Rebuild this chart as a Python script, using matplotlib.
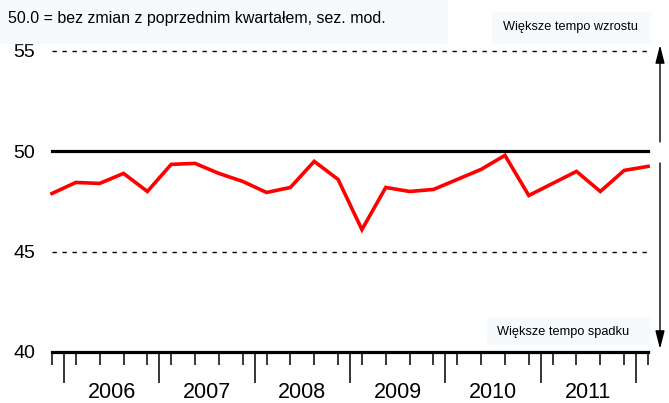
import matplotlib
matplotlib.use("Agg")
import matplotlib.pyplot as plt
import matplotlib.transforms as mtransforms
from matplotlib.patches import Rectangle

plt.rcParams["font.family"] = ["Liberation Sans", "DejaVu Sans"]

# quarterly index, 2005Q4 .. 2012Q1
quarters = list(range(26))
values = [47.9, 48.45, 48.4, 48.9, 48.0, 49.35, 49.4, 48.9, 48.5, 47.95,
          48.2, 49.5, 48.6, 46.1, 48.2, 48.0, 48.1, 48.6, 49.1, 49.8,
          47.8, 48.4, 49.0, 48.0, 49.05, 49.25]
years = ["2006", "2007", "2008", "2009", "2010", "2011"]
year_centers = [2.5, 6.5, 10.5, 14.5, 18.5, 22.5]
year_bounds = [0.5, 4.5, 8.5, 12.5, 16.5, 20.5, 24.5]
yticks = [40, 45, 50, 55]

W, H = 669, 403
BOX = "#f6fafd"

fig = plt.figure(figsize=(W / 100, H / 100), dpi=100)
ax = fig.add_axes([52 / W, (H - 352) / H, 596 / W, 301 / H])


def fig_box(x0, y0, x1, y1):
    # pixel coords measured from the top-left corner
    fig.patches.append(Rectangle((x0 / W, 1 - y1 / H), (x1 - x0) / W, (y1 - y0) / H,
                                 transform=fig.transFigure, color=BOX, zorder=0))


fig_box(0, 0, 447, 43)
fig_box(492, 12, 650, 43)
fig_box(487, 317, 650, 345)
fig.text(8 / W, 1 - 18 / H, "50.0 = bez zmian z poprzednim kwartałem, sez. mod.",
         fontsize=11.5, va="center", ha="left")
fig.text(570 / W, 1 - 27 / H, "Większe tempo wzrostu", fontsize=9.2, va="center", ha="center")
fig.text(563 / W, 1 - 332 / H, "Większe tempo spadku", fontsize=9.2, va="center", ha="center")

# reference lines
for lvl in (45, 55):
    ax.axhline(lvl, color="black", lw=1, dashes=(3.1, 4.1), clip_on=False)
ax.axhline(50, color="black", lw=2.3, clip_on=False)

ax.plot(quarters, values, color="#ff0000", lw=2.6, clip_on=False, zorder=4,
        solid_joinstyle="miter")

ax.set_xlim(0, 25)
ax.set_ylim(40, 55)

for s in ("top", "right", "left"):
    ax.spines[s].set_visible(False)
ax.spines["bottom"].set_linewidth(2.3)

ax.set_xticks(year_bounds)
ax.set_xticklabels([""] * len(year_bounds))
ax.set_xticks(quarters, minor=True)
ax.tick_params(axis="x", which="major", length=22.3, width=1.1, direction="out")
ax.tick_params(axis="x", which="minor", length=9.4, width=1.1, direction="out")

ax.set_yticks(yticks)
ax.set_yticklabels([str(v) for v in yticks])
ax.tick_params(axis="y", length=0, pad=12, labelsize=14)

tr = mtransforms.blended_transform_factory(ax.transData, ax.transAxes)
for xc, lab in zip(year_centers, years):
    ax.text(xc, -41 / 301, lab, transform=tr, ha="center", va="center", fontsize=15.5)

# direction arrows on the right
arrow = dict(arrowstyle="-|>,head_length=1.1,head_width=0.28", color="black",
             lw=1, mutation_scale=10, shrinkA=0, shrinkB=0)
ax.annotate("", xy=(660, H - 45), xytext=(660, H - 142),
            xycoords="figure pixels", textcoords="figure pixels", arrowprops=arrow)
ax.annotate("", xy=(660, H - 349), xytext=(660, H - 163),
            xycoords="figure pixels", textcoords="figure pixels", arrowprops=arrow)

fig.savefig("out.png", dpi=100)
